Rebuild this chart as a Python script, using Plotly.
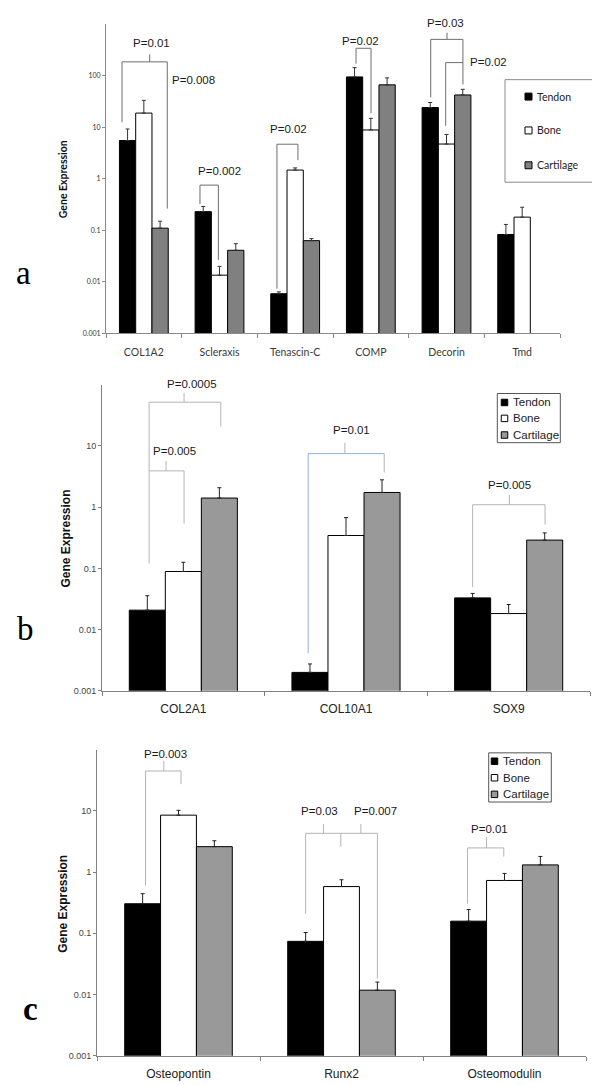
import numpy as np
import plotly.graph_objects as go

W, H = 600, 1085

# ---------------- data ----------------
series = ["Tendon", "Bone", "Cartilage"]

# panel a
genes_a = ["COL1A2", "Scleraxis", "Tenascin-C", "COMP", "Decorin", "Tmd"]
tendon_a = [5.5, 0.23, 0.0059, 94, 24, 0.083]
tendon_a_err = [3.7, 0.06, 0.0005, 48, 6, 0.047]
bone_a = [18.7, 0.0135, 1.47, 8.8, 4.7, 0.18]
bone_a_err = [14.3, 0.0065, 0.15, 6.0, 2.5, 0.10]
cart_a = [0.11, 0.041, 0.063, 66, 42, None]
cart_a_err = [0.04, 0.014, 0.006, 24, 12, 0]

# panel b
genes_b = ["COL2A1", "COL10A1", "SOX9"]
tendon_b = [0.0208, 0.0020, 0.033]
tendon_b_err = [0.015, 0.00075, 0.006]
bone_b = [0.089, 0.345, 0.0183]
bone_b_err = [0.037, 0.33, 0.0074]
cart_b = [1.41, 1.74, 0.29]
cart_b_err = [0.67, 1.06, 0.09]

# panel c
genes_c = ["Osteopontin", "Runx2", "Osteomodulin"]
tendon_c = [0.304, 0.074, 0.158]
tendon_c_err = [0.14, 0.029, 0.087]
bone_c = [8.5, 0.58, 0.73]
bone_c_err = [1.7, 0.17, 0.22]
cart_c = [2.6, 0.0118, 1.31]
cart_c_err = [0.65, 0.0042, 0.49]

y_tickvals = [0.001, 0.01, 0.1, 1, 10, 100]
y_ticktext = ["0.001", "0.01", "0.1", "1", "10", "100"]

# significance brackets: (panel, category, bar-slot offsets, values, colour key)
bracket_lines = [
    (0, 0, [-1.34, -1.34, 1.44, 1.44], [12.4, 184, 184, 0.263], "g"),
    (0, 0, [0.36, 0.36], [184, 258], "g"),
    (0, 1, [-1.2, -1.2, -0.07, -0.07], [0.323, 0.752, 0.752, 0.0268], "g"),
    (0, 2, [-1.12, -1.12, 0.17, 0.17], [0.0074, 4.66, 4.66, 2.29], "g"),
    (0, 3, [-0.91, -0.91, 0.01, 0.01], [170, 337, 337, 18.5], "g"),
    (0, 4, [-0.97, -0.97, 1.01, 1.01], [37.6, 502, 502, 67], "g"),
    (0, 4, [0.03, 0.03], [502, 676], "g"),
    (0, 4, [-0.05, -0.05, 1.01], [10.6, 178, 178], "g"),
    (1, 0, [-0.95, -0.95, 1.04, 1.04], [0.12, 51.9, 51.9, 20.6], "g"),
    (1, 0, [0.02, 0.02], [51.9, 73.6], "g"),
    (1, 0, [-0.95, 0.02, 0.02], [3.92, 3.92, 0.54], "g"),
    (1, 0, [-0.48, -0.48], [3.92, 5.7], "g"),
    (1, 1, [-1.05, -1.05, 1.06], [0.0041, 7.5, 7.5], "b"),
    (1, 1, [1.06, 1.06], [7.5, 3.68], "g"),
    (1, 1, [-0.03, -0.03], [7.5, 11.3], "g"),
    (1, 2, [-1.0, -1.0, 1.01, 1.01], [0.0497, 1.097, 1.097, 0.52], "g"),
    (1, 2, [0.02, 0.02], [1.097, 1.6], "g"),
    (2, 0, [-0.92, -0.92, 0.07, 0.07], [0.60, 44.7, 44.7, 27.2], "g"),
    (2, 0, [-0.41, -0.41], [44.7, 65], "g"),
    (2, 1, [-1.0, -1.0, 1.0, 1.0], [0.209, 4.29, 4.29, 0.0183], "g"),
    (2, 1, [-0.5, -0.5], [4.29, 6.08], "g"),
    (2, 1, [0.54, 0.54], [4.29, 6.08], "g"),
    (2, 1, [-0.02, -0.02], [4.29, 2.6], "g"),
    (2, 2, [-1.03, -1.03, -0.02, -0.02], [0.304, 2.48, 2.48, 1.79], "g"),
    (2, 2, [-0.5, -0.5], [2.48, 3.69], "g"),
]
# p-value labels: (panel, category, slot offset, value, text, anchor)
p_labels = [
    (0, 0, 0.46, 434, "P=0.01", "center"),
    (0, 0, 1.6, 81, "P=0.008", "left"),
    (0, 1, -0.03, 1.40, "P=0.002", "center"),
    (0, 2, -0.44, 9.1, "P=0.02", "center"),
    (0, 3, -0.66, 474, "P=0.02", "center"),
    (0, 4, -0.09, 1040, "P=0.03", "center"),
    (0, 4, 1.32, 186, "P=0.02", "left"),
    (1, 0, 0.24, 102, "P=0.0005", "center"),
    (1, 0, -0.24, 8.3, "P=0.005", "center"),
    (1, 1, 0.14, 18.2, "P=0.01", "center"),
    (1, 2, 0.02, 2.32, "P=0.005", "center"),
    (2, 0, -0.35, 83.6, "P=0.003", "center"),
    (2, 1, -0.6, 9.9, "P=0.03", "center"),
    (2, 1, 0.95, 9.9, "P=0.007", "center"),
    (2, 2, -0.43, 5.04, "P=0.01", "center"),
]

# ---------------- styling / layout ----------------
panels = [
    dict(genes=genes_a, vals=[tendon_a, bone_a, cart_a], errs=[tendon_a_err, bone_a_err, cart_a_err],
         px=(98, 552), py=(327, 16), ytop=3, w=0.215,
         colors=["#000000", "#ffffff", "#808080"], axis="#8a8a8a", bracket="#6e6e6e",
         font="Lato", tickfont=7, tickcolor="#333333", xfont=10.5, xcolor="#3a3a3a", standoff=9,
         title_x=55, title_y=172, title_size=10.5, letter="a", letter_xy=(15, 266), letter_bold=False,
         errcolor="#333333"),
    dict(genes=genes_b, vals=[tendon_b, bone_b, cart_b], errs=[tendon_b_err, bone_b_err, cart_b_err],
         px=(94, 582), py=(686, 378.5), ytop=2, w=0.2215,
         colors=["#000000", "#ffffff", "#999999"], axis="#808080", bracket="#b4b4b4",
         font="Liberation Sans", tickfont=9, tickcolor="#444444", xfont=12, xcolor="#222222", standoff=7,
         title_x=58, title_y=533, title_size=12, letter="b", letter_xy=(17, 624), letter_bold=False,
         errcolor="#222222"),
    dict(genes=genes_c, vals=[tendon_c, bone_c, cart_c], errs=[tendon_c_err, bone_c_err, cart_c_err],
         px=(89, 578), py=(1052.7, 745), ytop=2, w=0.22,
         colors=["#000000", "#ffffff", "#999999"], axis="#808080", bracket="#b4b4b4",
         font="Liberation Sans", tickfont=9, tickcolor="#444444", xfont=12, xcolor="#222222", standoff=7,
         title_x=55, title_y=900, title_size=12, letter="c", letter_xy=(22, 1006), letter_bold=True,
         errcolor="#222222"),
]
blue_bracket = "#8fb0e0"

legends = [
    dict(box=(497, 588, 72, 175), ys=[89, 123, 158], mx=520.5, tx=527, ms=7, font="Lato", size=10.5,
         border="#8a8a8a"),
    dict(box=(489.3, 552.3, 387.3, 436.7), ys=[396.3, 412.3, 429], mx=496.5, tx=502.5, ms=6.5,
         font="Liberation Sans", size=11.5, border="#555555"),
    dict(box=(480.7, 543.3, 748.3, 797.7), ys=[756.7, 773.3, 790], mx=486.5, tx=492.5, ms=6.5,
         font="Liberation Sans", size=11.5, border="#555555"),
]


def px2paper(x, y):
    return x / W, 1 - y / H


def value_to_paper(spec, v):
    # position along the panel's log axis, expressed in paper units
    yb, yt = spec["py"]
    d0, d1 = 1 - yb / H, 1 - yt / H
    frac = (np.log10(v) + 3) / (spec["ytop"] + 3)
    return float(d0 + frac * (d1 - d0))


fig = go.Figure()
shapes = []
annotations = []
layout_axes = {}

for p, spec in enumerate(panels):
    sfx = "" if p == 0 else str(p + 1)
    xa, ya = "x" + sfx, "y" + sfx
    n = len(spec["genes"])
    xs = list(range(n))
    w = spec["w"]
    for i, name in enumerate(series):
        vals = spec["vals"][i]
        errs = [e if e is not None else 0 for e in spec["errs"][i]]
        fig.add_trace(go.Bar(
            x=xs, y=vals, name=name, width=w, offset=(i - 1.5) * w,
            marker=dict(color=spec["colors"][i], line=dict(color="#000000", width=1)),
            error_y=dict(type="data", symmetric=False, array=errs, arrayminus=[0] * n,
                         color=spec["errcolor"], thickness=1, width=2),
            xaxis=xa, yaxis=ya, showlegend=False, hoverinfo="skip"))

    x0, x1 = spec["px"]
    yb, yt = spec["py"]
    shown = [k for k, v in enumerate(y_tickvals) if np.log10(v) <= spec["ytop"] - 1]
    layout_axes["xaxis" + sfx] = dict(
        domain=[x0 / W, x1 / W], anchor=ya, range=[-0.5, n - 0.5],
        tickmode="array", tickvals=xs, ticktext=spec["genes"], ticks="",
        showline=True, linecolor=spec["axis"], linewidth=1, showgrid=False, zeroline=False,
        tickfont=dict(family=spec["font"], size=spec["xfont"], color=spec["xcolor"]),
        ticklabelstandoff=spec["standoff"],
        minor=dict(tickmode="array", tickvals=[k - 0.5 for k in range(n + 1)], ticks="outside",
                   ticklen=4, tickwidth=1, tickcolor=spec["axis"], showgrid=False),
        fixedrange=True)
    layout_axes["yaxis" + sfx] = dict(
        domain=[1 - yb / H, 1 - yt / H], anchor=xa, type="log", range=[-3, spec["ytop"]],
        tickmode="array", tickvals=[y_tickvals[k] for k in shown],
        ticktext=[y_ticktext[k] for k in shown],
        ticks="outside", ticklen=3, tickwidth=1, tickcolor=spec["axis"],
        showline=True, linecolor=spec["axis"], linewidth=1, showgrid=False, zeroline=False,
        tickfont=dict(family=spec["font"], size=spec["tickfont"], color=spec["tickcolor"]),
        fixedrange=True)

    tx, ty = px2paper(spec["title_x"], spec["title_y"])
    annotations.append(dict(
        x=tx, y=ty, xref="paper", yref="paper", text="<b>Gene Expression</b>", textangle=-90,
        showarrow=False, font=dict(family=spec["font"], size=spec["title_size"], color="#111111"),
        xanchor="center", yanchor="middle"))
    lx, ly = px2paper(*spec["letter_xy"])
    ltxt = "<b>%s</b>" % spec["letter"] if spec["letter_bold"] else spec["letter"]
    annotations.append(dict(
        x=lx, y=ly, xref="paper", yref="paper", text=ltxt, showarrow=False,
        font=dict(family="Liberation Serif", size=33, color="#000000"),
        xanchor="center", yanchor="middle"))

# brackets
for (p, cat, ss, ys, ck) in bracket_lines:
    spec = panels[p]
    sfx = "" if p == 0 else str(p + 1)
    col = blue_bracket if ck == "b" else spec["bracket"]
    fig.add_trace(go.Scatter(
        x=[cat + s * spec["w"] for s in ss], y=ys, mode="lines",
        line=dict(color=col, width=1), xaxis="x" + sfx, yaxis="y" + sfx,
        showlegend=False, hoverinfo="skip"))

for (p, cat, s, v, txt, anc) in p_labels:
    spec = panels[p]
    sfx = "" if p == 0 else str(p + 1)
    annotations.append(dict(
        x=cat + s * spec["w"], y=value_to_paper(spec, v), xref="x" + sfx, yref="paper",
        text=txt, showarrow=False, xanchor=anc, yanchor="middle",
        font=dict(family="Liberation Sans", size=11.5, color="#1a1a1a")))

# legends (drawn as a box with swatches and text)
for p, lg in enumerate(legends):
    colors = panels[p]["colors"]
    bx0, bx1, by0, by1 = lg["box"]
    shapes.append(dict(type="rect", xref="paper", yref="paper",
                       x0=bx0 / W, x1=bx1 / W, y0=1 - by1 / H, y1=1 - by0 / H,
                       line=dict(color=lg["border"], width=1), fillcolor="#ffffff", layer="above"))
    for i, name in enumerate(series):
        yy = lg["ys"][i]
        h = lg["ms"] / 2
        shapes.append(dict(type="rect", xref="paper", yref="paper",
                           x0=(lg["mx"] - h) / W, x1=(lg["mx"] + h) / W,
                           y0=1 - (yy + h) / H, y1=1 - (yy - h) / H,
                           line=dict(color="#000000", width=1), fillcolor=colors[i], layer="above"))
        annotations.append(dict(
            x=lg["tx"] / W, y=1 - yy / H, xref="paper", yref="paper", text=name,
            showarrow=False, xanchor="left", yanchor="middle",
            font=dict(family=lg["font"], size=lg["size"], color="#222222")))

fig.update_layout(
    width=W, height=H, margin=dict(l=0, r=0, t=0, b=0),
    paper_bgcolor="#ffffff", plot_bgcolor="#ffffff",
    barmode="overlay", showlegend=False,
    shapes=shapes, annotations=annotations,
    **layout_axes)

fig.write_html("out.html")
